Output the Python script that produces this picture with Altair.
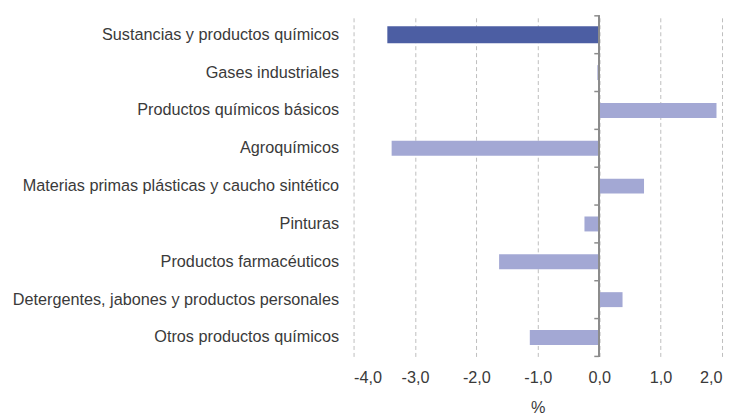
import altair as alt
import pandas as pd

categorias = [
    "Sustancias y productos químicos",
    "Gases industriales",
    "Productos químicos básicos",
    "Agroquímicos",
    "Materias primas plásticas y caucho sintético",
    "Pinturas",
    "Productos farmacéuticos",
    "Detergentes, jabones y productos personales",
    "Otros productos químicos",
]
valores = [-3.45, -0.03, 1.91, -3.38, 0.73, -0.24, -1.63, 0.38, -1.13]
ticks_x = [-4, -3, -2, -1, 0, 1, 2]

df = pd.DataFrame({"cat": categorias, "val": valores})
df["total"] = df["cat"] == categorias[0]
df_last = df.tail(1)

FONT = "Liberation Sans"
FS = 16.3
TXT = "#3a3a3a"

bars = alt.Chart(df).mark_bar().encode(
    x=alt.X("val:Q", scale=alt.Scale(domain=[-4, 2], nice=False, zero=False),
            title="%",
            axis=alt.Axis(values=ticks_x, grid=True, gridDash=[4, 3],
                          gridColor="#bdbdbd", gridWidth=1,
                          domain=False, ticks=False, labelPadding=13,
                          labelFontSize=FS, labelColor=TXT,
                          labelFont=FONT, titleFont=FONT, titleFontSize=FS,
                          titleFontWeight="normal", titleColor=TXT,
                          titlePadding=14,
                          labelExpr="(datum.value < 0 ? '-' : '') + replace(format(abs(datum.value), '.1f'), '.', ',')")),
    y=alt.Y("cat:N", sort=categorias, title=None,
            scale=alt.Scale(paddingInner=0, paddingOuter=0),
            axis=alt.Axis(domain=False, ticks=False, labelPadding=15,
                          labelFontSize=FS, labelColor=TXT,
                          labelFont=FONT, labelLimit=400)),
    color=alt.condition(alt.datum.total, alt.value("#4c5ea3"), alt.value("#a3a8d4")),
    size=alt.condition(alt.datum.total, alt.value(17), alt.value(15)),
)

zero = alt.Chart(df).mark_rule(color="#8c8c8c", strokeWidth=1.5).encode(
    x=alt.datum(0), y=alt.value(0), y2=alt.value(342)
)

tick_top = alt.Chart(df).mark_rule(color="#8c8c8c", strokeWidth=1.5).encode(
    x=alt.datum(-0.08), x2=alt.datum(0),
    y=alt.Y("cat:N", sort=categorias, bandPosition=0),
)
tick_bottom = alt.Chart(df_last).mark_rule(color="#8c8c8c", strokeWidth=1.5).encode(
    x=alt.datum(-0.08), x2=alt.datum(0),
    y=alt.Y("cat:N", sort=categorias, bandPosition=1),
)

chart = alt.layer(bars, zero, tick_top, tick_bottom).properties(
    width=370, height=342,
    padding={"left": 4, "top": 6, "right": 5, "bottom": 5},
).configure_view(stroke=None)

chart.save("out.html", embed_options={"renderer": "svg", "actions": False})
